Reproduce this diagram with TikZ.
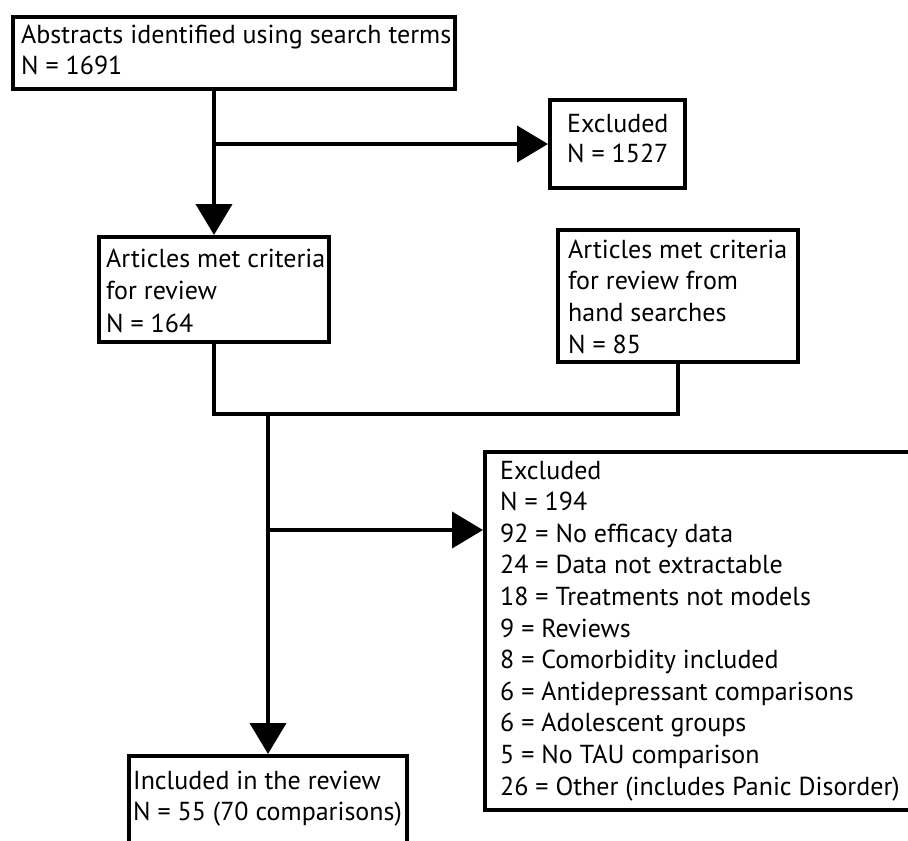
\documentclass[tikz,border=0pt]{standalone}
\usepackage{fontspec}
\setmainfont{PT Sans}
\usetikzlibrary{arrows.meta}
\begin{document}
\begin{tikzpicture}[x=1pt,y=1pt,
  box/.style={draw, line width=4pt, rectangle, inner sep=0pt, anchor=north west},
  lbl/.style={anchor=base west, inner sep=0pt, font=\fontsize{26}{31.6}\selectfont},
  conn/.style={line width=4pt},
  arr/.style={conn, -{Triangle[width=36pt,length=31pt]}}]
\clip (0,0) rectangle (908,-841);
\fill[white] (0,0) rectangle (908,-841);
% boxes
\node[box, minimum width=442pt, minimum height=72pt] (b1) at (11,-15) {};
\node[box, minimum width=135pt, minimum height=88pt] (e1) at (548,-98) {};
\node[box, minimum width=230pt, minimum height=105pt] (b2) at (97,-235) {};
\node[box, minimum width=240pt, minimum height=132pt] (hs) at (556,-228) {};
\node[box, minimum width=460pt, minimum height=358pt] (e2) at (483,-450) {};
\node[box, minimum width=278pt, minimum height=130pt] (inc) at (127,-754) {};
% texts
\foreach \t [count=\i] in {Abstracts identified using search terms, N = 1691}
  \node[lbl] (b1t\i) at (21,{-43-31.6*(\i-1)}) {\t};
\foreach \t [count=\i] in {Excluded, N = 1527}
  \node[lbl] (e1t\i) at (567,{-132-30*(\i-1)}) {\t};
\foreach \t [count=\i] in {Articles met criteria, for review, N = 164}
  \node[lbl] (b2t\i) at (106,{-267-32.5*(\i-1)}) {\t};
\foreach \t [count=\i] in {Articles met criteria, for review from, hand searches, N = 85}
  \node[lbl] (hst\i) at (568,{-258-31.7*(\i-1)}) {\t};
\foreach \t [count=\i] in {Excluded, N = 194, 92 = No efficacy data, 24 = Data not extractable,
  18 = Treatments not models, 9 = Reviews, 8 = Comorbidity included,
  6 = Antidepressant comparisons, 6 = Adolescent groups, 5 = No TAU comparison,
  26 = Other (includes Panic Disorder)}
  \node[lbl] (e2t\i) at (500,{-479-31.6*(\i-1)}) {\t};
\foreach \t [count=\i] in {Included in the review, N = 55 (70 comparisons)}
  \node[lbl] (inct\i) at (133,{-789-31*(\i-1)}) {\t};
% connectors
\draw[arr] (b1.south -| b2.north) -- (b2.north);
\draw[arr] (b2.north |- e1.west) -- (e1.west);
\coordinate (jn) at (inc.north |- 0,-414);
\draw[conn] (b2.south) |- (jn) -| (hs.south);
\draw[arr] (jn) -- (inc.north);
\coordinate (e2in) at ([yshift=-80pt]e2.north west);
\draw[arr] (jn |- e2in) -- (e2in);
\end{tikzpicture}
\end{document}
